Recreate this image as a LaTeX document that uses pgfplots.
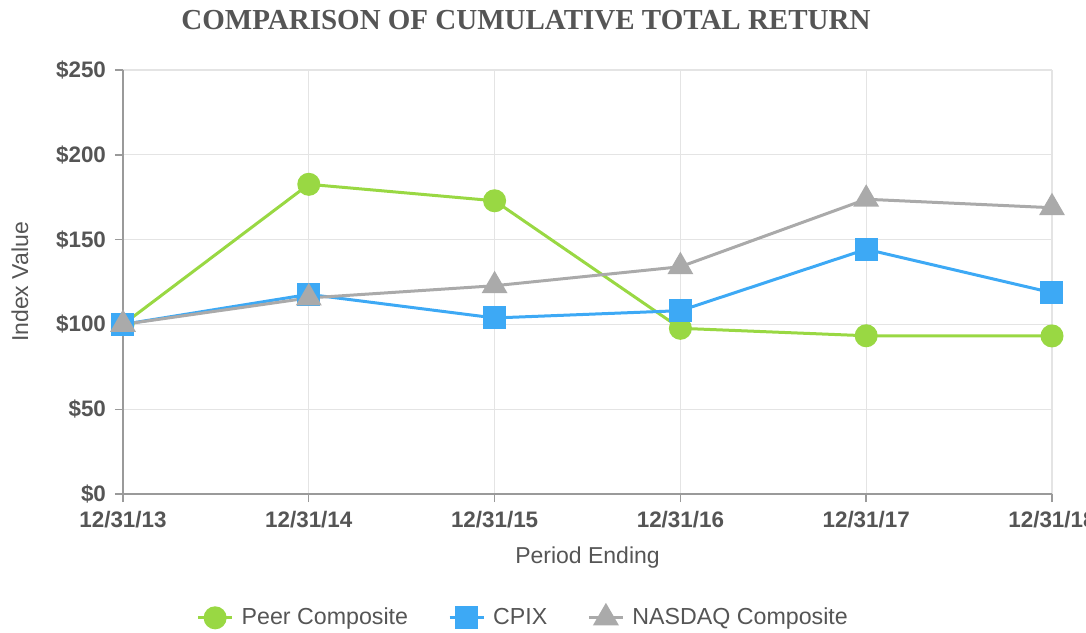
\documentclass[border=0pt]{standalone}
\usepackage{fontspec}
\setmainfont{Liberation Sans}
\newfontfamily\titlefont{Liberation Serif}
\usepackage{pgfplots}
\pgfplotsset{compat=1.18}
\definecolor{peer}{HTML}{99D843}
\definecolor{cpix}{HTML}{3DA9F5}
\definecolor{nasdaq}{HTML}{AAAAAA}
\definecolor{txt}{HTML}{555555}
\definecolor{gridc}{HTML}{E4E4E4}
\definecolor{axc}{HTML}{9A9A9A}
\begin{document}
\begin{tikzpicture}
\clip (-61.5pt,-69pt) rectangle (481.5pt,247pt);
\useasboundingbox (-61.5pt,-69pt) rectangle (481.5pt,247pt);
\begin{axis}[
  at={(0,0)}, anchor=south west,
  scale only axis, width=464.5pt, height=212pt,
  xmin=0, xmax=5, ymin=0, ymax=250,
  xtick={0,1,2,3,4,5},
  xticklabels={12/31/13,12/31/14,12/31/15,12/31/16,12/31/17,12/31/18},
  ytick={0,50,100,150,200,250},
  yticklabels={\$0,\$50,\$100,\$150,\$200,\$250},
  axis x line=bottom, axis y line=left,
  axis line style={-, draw=axc},
  x axis line style={line width=1.2pt},
  y axis line style={line width=0.8pt},
  grid=major, major grid style={draw=gridc, line width=0.6pt},
  tick style={draw=axc, line width=0.7pt},
  tick align=outside, major tick length=4pt,
  /pgf/number format/assume math mode=true,
  ticklabel style={font=\fontsize{11.2}{13}\selectfont\bfseries, text=txt},
  xticklabel style={yshift=-1pt},
  yticklabel style={xshift=-1pt},
  xlabel={Period Ending}, ylabel={Index Value},
  label style={font=\fontsize{11.5}{13}\selectfont, text=txt},
  xlabel style={at={(axis description cs:0.5,-0.151)}, anchor=center},
  ylabel style={at={(axis description cs:-0.111,0.5)}, anchor=center, rotate=0},
  legend style={at={(axis description cs:0.434,-0.292)}, anchor=center,
    draw=none, fill=none, legend columns=3,
    font=\fontsize{11.6}{13}\selectfont, text=txt,
    nodes={inner xsep=4pt},
    /tikz/every even column/.append style={column sep=16pt}},
  legend cell align=left,
  clip=false,
]
\addplot[peer, line width=1.5pt, mark=*, mark size=5pt, mark options={fill=peer, draw=peer}]
  coordinates {(0,100) (1,182.6) (2,172.9) (3,97.7) (4,93.3) (5,93.2)};
\addplot[cpix, line width=1.5pt, mark=square*, mark size=5pt, mark options={fill=cpix, draw=cpix}]
  coordinates {(0,100) (1,117.7) (2,103.8) (3,108.1) (4,144.3) (5,118.7)};
\addplot[nasdaq, line width=1.5pt, mark=triangle*, mark size=6pt, mark options={fill=nasdaq, draw=nasdaq}]
  coordinates {(0,100) (1,115.6) (2,122.8) (3,134.0) (4,173.8) (5,168.8)};
\legend{Peer Composite, CPIX, NASDAQ Composite}
\end{axis}
\node[font=\titlefont\fontsize{14.5}{16}\selectfont\bfseries, text=txt] at (201.5pt,237pt) {COMPARISON OF CUMULATIVE TOTAL RETURN};
\end{tikzpicture}
\end{document}
